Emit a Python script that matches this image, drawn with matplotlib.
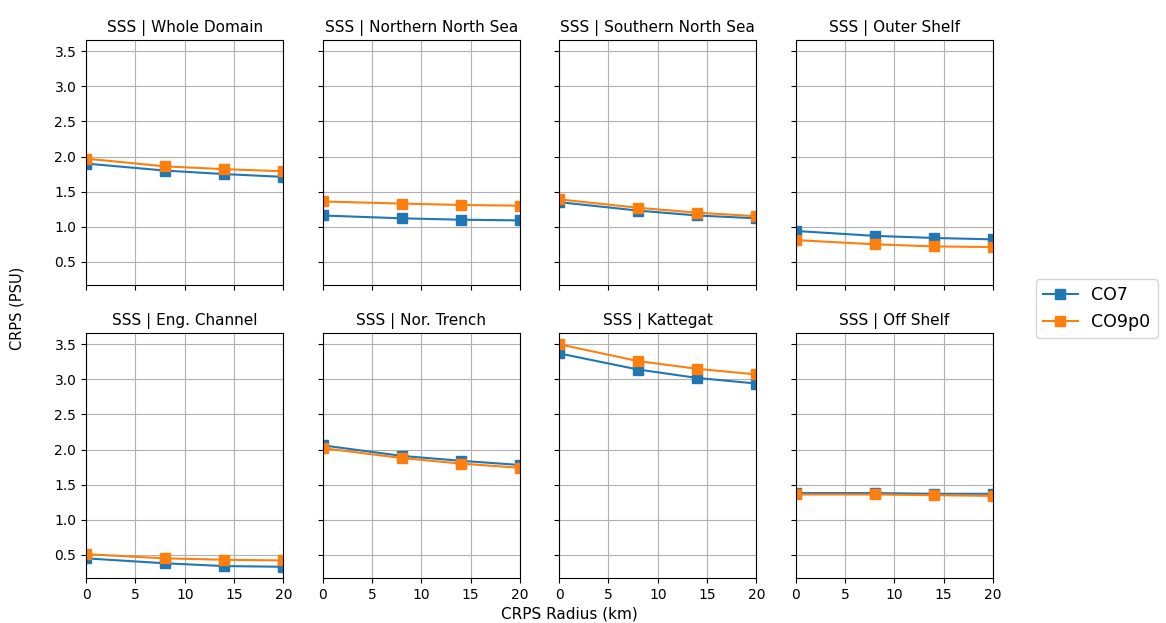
import numpy as np
import matplotlib.pyplot as plt

# CRPS vs neighbourhood radius, per region
radius = [0, 8, 14, 20]
regions = ['Whole Domain', 'Northern North Sea', 'Southern North Sea', 'Outer Shelf',
           'Eng. Channel', 'Nor. Trench', 'Kattegat', 'Off Shelf']

co7 = [
    [1.90, 1.80, 1.75, 1.71],
    [1.16, 1.12, 1.10, 1.09],
    [1.35, 1.23, 1.16, 1.12],
    [0.94, 0.87, 0.84, 0.82],
    [0.45, 0.38, 0.34, 0.33],
    [2.06, 1.91, 1.84, 1.78],
    [3.37, 3.14, 3.02, 2.94],
    [1.38, 1.38, 1.37, 1.37],
]
co9p0 = [
    [1.97, 1.86, 1.82, 1.79],
    [1.36, 1.33, 1.31, 1.30],
    [1.39, 1.27, 1.20, 1.15],
    [0.81, 0.75, 0.72, 0.71],
    [0.51, 0.45, 0.43, 0.42],
    [2.02, 1.88, 1.80, 1.74],
    [3.50, 3.26, 3.15, 3.07],
    [1.36, 1.36, 1.35, 1.34],
]

fig, axes = plt.subplots(2, 4, figsize=(11.66, 6.23), dpi=100, sharex=True, sharey=True)
fig.subplots_adjust(left=0.0738, right=0.8516, top=0.9358, bottom=0.0722,
                    wspace=0.198, hspace=0.196)

for i, ax in enumerate(axes.flat):
    l1, = ax.plot(radius, co7[i], marker='s', markersize=7.5, color='tab:blue', label='CO7')
    l2, = ax.plot(radius, co9p0[i], marker='s', markersize=7.5, color='tab:orange', label='CO9p0')
    ax.set_title('SSS | ' + regions[i], fontsize=11)
    ax.grid(True)

axes[0, 0].set_xlim(0, 20)
axes[0, 0].set_ylim(0.17, 3.66)
axes[0, 0].set_xticks([0, 5, 10, 15, 20])
axes[0, 0].set_yticks(np.arange(0.5, 3.6, 0.5))

fig.supxlabel('CRPS Radius (km)', x=0.488, y=0.003, fontsize=11)
fig.supylabel('CRPS (PSU)', x=0.008, y=0.505, fontsize=10.5)
fig.legend([l1, l2], ['CO7', 'CO9p0'], loc='center left',
           bbox_to_anchor=(0.881, 0.505), fontsize=12.5)

fig.savefig('out.png', dpi=100)
